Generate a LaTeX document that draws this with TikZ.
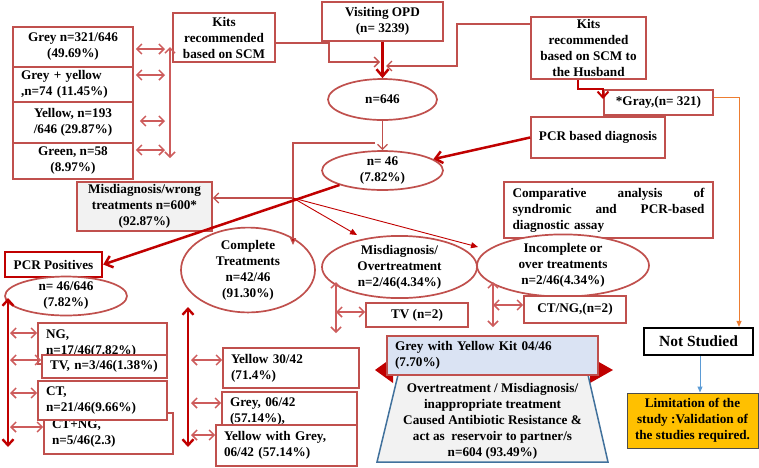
\documentclass[tikz,border=0pt]{standalone}
\usepackage{fontspec}
\setmainfont{Liberation Serif}
\usetikzlibrary{shapes.geometric,arrows.meta}
\definecolor{boxred}{HTML}{C0504D}
\definecolor{darkred}{HTML}{C00000}
\definecolor{arrowred}{HTML}{CD5C5C}
\definecolor{graybg}{HTML}{F2F2F2}
\definecolor{bluebg}{HTML}{DAE3F3}
\definecolor{trapblue}{HTML}{41719C}
\definecolor{limfill}{HTML}{FFC000}
\definecolor{orangeline}{HTML}{ED7D31}
\definecolor{blueline}{HTML}{5B9BD5}
\begin{document}
\begin{tikzpicture}[x=1pt,y=-1pt,
  font=\bfseries\fontsize{13.2}{16}\selectfont,
  box/.style={draw=boxred, line width=1.7pt, fill=white, inner sep=0pt, align=center},
  lbox/.style={box, align=left, inner xsep=8pt},
  ell/.style={ellipse, draw=boxred, line width=1.7pt, fill=white, inner sep=0pt, align=center},
  dbl/.style={draw=arrowred, line width=1.5pt, {Straight Barb[length=5pt,width=10pt]}-{Straight Barb[length=5pt,width=10pt]}},
  tdbl/.style={draw=darkred, line width=2.4pt, {Straight Barb[length=6pt,width=11pt]}-{Straight Barb[length=6pt,width=11pt]}},
  conn/.style={draw=boxred, line width=1.3pt, -{Straight Barb[length=5pt,width=10pt]}},
  heavy/.style={draw=darkred, line width=2.5pt, -{Straight Barb[length=7pt,width=12pt]}},
  fan/.style={draw=darkred, line width=0.9pt, -{Triangle[length=7pt,width=6pt]}}
]
\useasboundingbox (0,0) rectangle (759,467);

% left kit column
\node[box, minimum width=120pt, minimum height=40pt] (grey) at (73,47) {Grey n=321/646\\(49.69\%)};
\node[lbox, minimum width=120pt, text width=104pt, minimum height=35pt] (gy) at (73,84.5) {Grey + yellow\\,n=74 (11.45\%)};
\node[box, minimum width=120pt, minimum height=41pt] (yel0) at (73,122.5) {Yellow, n=193\\/646 (29.87\%)};
\node[box, minimum width=120pt, minimum height=36pt] (green) at (73,161) {Green, n=58\\(8.97\%)};

% top
\node[box, minimum width=102pt, minimum height=49pt] (kits) at (224,37.5) {Kits\\recommended\\based on SCM};
\node[box, minimum width=121pt, minimum height=39pt] (opd) at (382.5,21.5) {Visiting OPD\\(n= 3239)};
\node[box, minimum width=115pt, minimum height=62pt] (husb) at (588.5,48) {Kits\\recommended\\based on SCM to\\the Husband};
\node[ell, minimum width=109pt, minimum height=41pt] (e646) at (382.5,99.5) {n=646};
\node[ell, minimum width=121pt, minimum height=35pt] (e46) at (382.5,170.5) {n= 46\\(7.82\%)};
\node[box, minimum width=134pt, minimum height=41pt] (pcrd) at (598,137.5) {PCR based diagnosis};
\node[box, minimum width=109pt, minimum height=25pt] (gray) at (658.5,102.5) {*Gray,(n= 321)};

\node[box, fill=graybg, minimum width=135pt, minimum height=49pt] (misw) at (144.5,206.5) {Misdiagnosis/wrong\\treatments n=600*\\(92.87\%)};
\node[box, draw=darkred, line width=2.4pt, minimum width=97pt, minimum height=25pt] (pcrpos) at (53.5,264.5) {PCR Positives};
\node[ell, minimum width=122pt, minimum height=34pt] (e4646) at (66,296) {n= 46/646\\(7.82\%)};

% PCR positives column
\node[lbox, minimum width=129pt, text width=113pt, minimum height=41pt] (ng) at (102.5,343.5) {NG,\\n=17/46(7.82\%)};
\node[lbox, minimum width=125pt, text width=109pt, minimum height=23pt] (tv) at (104.5,366.5) {TV, n=3/46(1.38\%)};
\node[lbox, minimum width=129pt, text width=113pt, minimum height=41pt] (ctng) at (108.5,433.5) {CT+NG,\\n=5/46(2.3)};
\node[lbox, minimum width=129pt, text width=113pt, minimum height=39pt] (ct) at (102.5,400.5) {CT,\\n=21/46(9.66\%)};

% complete treatments column
\node[ell, minimum width=134pt, minimum height=66pt] (ecomp) at (248,270) {Complete\\Treatments\\n=42/46\\(91.30\%)};
\node[lbox, minimum width=136pt, text width=120pt, minimum height=40pt] (yel) at (291,368) {Yellow 30/42\\(71.4\%)};
\node[lbox, minimum width=135pt, text width=119pt, minimum height=40pt] (greyb) at (289.5,412) {Grey, 06/42\\(57.14\%),};
\node[lbox, minimum width=141pt, text width=125pt, minimum height=41pt] (ywg) at (286.5,445.5) {Yellow with Grey,\\06/42 (57.14\%)};

% misdiagnosis / incomplete
\node[ell, minimum width=155pt, minimum height=60pt] (emis) at (399.5,267) {Misdiagnosis/\\Overtreatment\\n=2/46(4.34\%)};
\node[box, minimum width=102pt, minimum height=24pt] (tvn) at (417,315) {TV (n=2)};
\node[box, text width=192pt, inner xsep=8.5pt, minimum height=56pt, align=left] (comp) at (608.5,210) {Comparative\hfill analysis\hfill of\\syndromic\hfill and\hfill PCR-based\\diagnostic assay};
\node[ell, minimum width=172pt, minimum height=55pt] (einc) at (563,265.5) {Incomplete or\\over treatments\\n=2/46(4.34\%)};
\node[box, minimum width=102pt, minimum height=27pt] (ctngn) at (575,309.5) {CT/NG,(n=2)};

% bottom centre
\fill[darkred] (375,370) -- (393,357) -- (393,383) -- cycle;
\fill[darkred] (613,370) -- (590,357) -- (590,383) -- cycle;
\draw[draw=trapblue, fill=graybg, line width=1.5pt] (398,375) -- (588,375) -- (608,462) -- (377,462) -- cycle;
\node[align=center] (trtext) at (492.5,421.5) {Overtreatment / Misdiagnosis/\\inappropriate treatment\\Caused Antibiotic Resistance \&\\act as~ reservoir to partner/s\\n=604 (93.49\%)};
\node[lbox, fill=bluebg, minimum width=211pt, text width=195pt, minimum height=39pt] (gwy) at (492.5,355.5) {Grey with Yellow Kit 04/46\\(7.70\%)};

% right
\node[draw=black, line width=2.2pt, fill=white, minimum width=109pt, minimum height=27pt, inner sep=0pt, font=\bfseries\fontsize{15.5}{18}\selectfont] (nots) at (698.5,341.5) {Not Studied};
\node[draw=black!70, fill=limfill, line width=1pt, minimum width=131pt, minimum height=55pt, align=center, inner sep=0pt] (lim) at (692.5,420.5) {Limitation of the\\study :Validation of\\the studies required.};

% coordinates
\coordinate (J) at (293,198);
\coordinate (br) at (375,143);
\coordinate (ctop) at (293,245);
\coordinate (tmis) at (357,235);
\coordinate (tinc) at (478,247);

% connectors
\draw[heavy] (opd) -- (e646);
\draw[conn] (kits.east |- 0,43) -- (329,43) -- (329,62) -- (380,62);
\draw[conn] (husb.west |- 0,24) -- (457,24) -- (457,66) -- (386,66);
\draw[conn] (e646) -- (e46);
\draw[draw=boxred, line width=1.2pt, -{Triangle[length=7pt,width=6pt,fill=darkred]}] (br) -| (ctop);
\draw[conn] (J) -- (J -| misw.east);
\draw[fan] (J) -- (tmis);
\draw[fan] (J) -- (tinc);
\draw[heavy] (pcrd.west) -- (e46);
\draw[heavy] (e46) -- (pcrpos.east);
\draw[draw=darkred, line width=2pt, -{Straight Barb[length=6pt,width=11pt]}] (husb.south -| 578,0) -- (578,89) -- (603,89) -- (603,99);
\draw[draw=orangeline, line width=1pt, -{Triangle[length=6pt,width=5pt]}] (gray.east |- 0,97) -- (739,97) -- (nots.north -| 739,0);
\draw[draw=blueline, line width=1pt, -{Triangle[length=6pt,width=5pt]}] (nots.south -| 700,0) -- (lim.north -| 700,0);

% double arrows kits column
\draw[dbl] (170,47) -- (170,158);
\draw[dbl, shorten <=2pt] (grey.east |- 0,49) -- (165,49);
\draw[dbl, shorten <=2pt] (gy.east |- 0,75) -- (165,75);
\draw[dbl, shorten <=6pt] (yel0.east |- 0,121) -- (165,121);
\draw[dbl, shorten <=2pt] (green.east |- 0,150) -- (165,150);

% PCR positives column
\draw[tdbl] (8,298) -- (8,447);
\draw[dbl] (10,333) -- (ng.west |- 0,333);
\draw[dbl] (10,360) -- (tv.west |- 0,360);
\draw[dbl] (10,393) -- (ct.west |- 0,393);
\draw[dbl] (10,427) -- (ctng.west |- 0,427);

% complete column
\draw[tdbl] (188,307) -- (188,447);
\draw[dbl] (191,360) -- (yel.west |- 0,360);
\draw[dbl] (191,403) -- (greyb.west |- 0,403);
\draw[dbl] (191,435) -- (ywg.west |- 0,435);

% misdiagnosis / incomplete
\draw[dbl] (336,282) -- (336,333);
\draw[dbl] (336,312) -- (tvn.west |- 0,312);
\draw[dbl] (493,282) -- (493,327);
\draw[dbl] (493,305) -- (ctngn.west |- 0,305);
\end{tikzpicture}
\end{document}
